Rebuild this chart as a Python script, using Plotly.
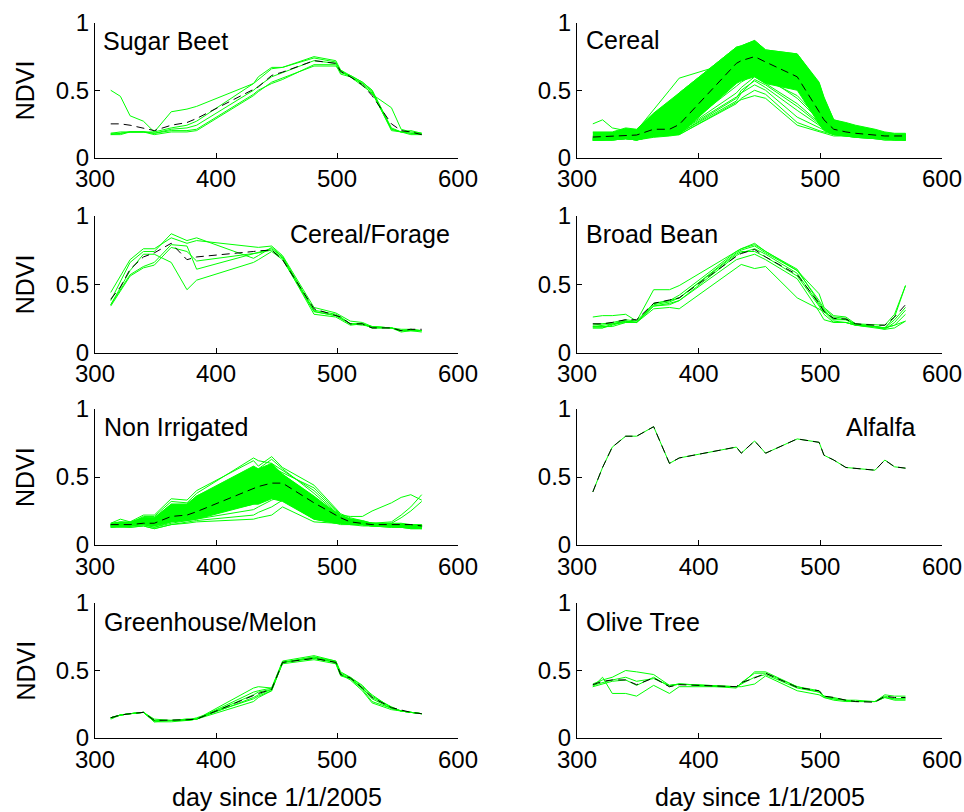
import plotly.graph_objects as go

# ---------------- data ----------------
days = [313, 321, 329, 340, 349, 363, 376, 384, 431, 435, 446, 455,
        481, 499, 503, 511, 521, 529, 545, 553, 561, 570]

sugar_beet_lines = [
    [0.50, 0.455, 0.31, 0.27, 0.19, 0.34, 0.36, 0.38, 0.55, 0.58, 0.66, 0.67, 0.75, 0.72, 0.65, 0.60, 0.55, 0.47, 0.37, 0.21, 0.19, 0.18],
    [0.18, 0.19, 0.19, 0.19, 0.19, 0.22, 0.24, 0.27, 0.55, 0.60, 0.67, 0.67, 0.74, 0.71, 0.63, 0.61, 0.56, 0.50, 0.21, 0.19, 0.18, 0.18],
    [0.17, 0.17, 0.19, 0.19, 0.17, 0.19, 0.19, 0.20, 0.46, 0.49, 0.56, 0.59, 0.68, 0.68, 0.64, 0.60, 0.53, 0.48, 0.21, 0.19, 0.17, 0.17],
    [0.17, 0.18, 0.19, 0.19, 0.18, 0.20, 0.20, 0.21, 0.47, 0.50, 0.55, 0.58, 0.69, 0.69, 0.62, 0.60, 0.55, 0.49, 0.20, 0.19, 0.18, 0.17],
    [0.18, 0.18, 0.19, 0.19, 0.18, 0.21, 0.22, 0.24, 0.50, 0.53, 0.60, 0.63, 0.72, 0.70, 0.65, 0.61, 0.56, 0.50, 0.22, 0.19, 0.20, 0.18],
]
sugar_beet_mean = [0.25, 0.25, 0.24, 0.22, 0.20, 0.24, 0.26, 0.29, 0.505, 0.525, 0.61, 0.635, 0.72, 0.70, 0.64, 0.60, 0.54, 0.46, 0.25, 0.20, 0.19, 0.17]

cereal_core_hi = [0.19, 0.19, 0.19, 0.22, 0.21, 0.33, 0.42, 0.48, 0.82, 0.83, 0.87, 0.80, 0.77, 0.56, 0.45, 0.28, 0.26, 0.24, 0.21, 0.19, 0.18, 0.18]
cereal_core_lo = [0.13, 0.13, 0.14, 0.14, 0.13, 0.15, 0.16, 0.17, 0.55, 0.57, 0.60, 0.55, 0.50, 0.25, 0.20, 0.17, 0.16, 0.15, 0.14, 0.14, 0.14, 0.13]
cereal_lines = [
    [0.25, 0.28, 0.22, 0.20, 0.20, 0.36, 0.50, 0.59, 0.72, 0.74, 0.80, 0.76, 0.70, 0.45, 0.33, 0.23, 0.21, 0.19, 0.17, 0.16, 0.16, 0.15],
    [0.16, 0.18, 0.17, 0.21, 0.20, 0.30, 0.40, 0.48, 0.82, 0.83, 0.87, 0.80, 0.77, 0.55, 0.44, 0.28, 0.25, 0.23, 0.20, 0.18, 0.17, 0.17],
    [0.15, 0.16, 0.16, 0.20, 0.19, 0.27, 0.35, 0.45, 0.80, 0.81, 0.85, 0.79, 0.75, 0.52, 0.40, 0.27, 0.24, 0.22, 0.19, 0.17, 0.16, 0.16],
    [0.14, 0.15, 0.15, 0.18, 0.17, 0.24, 0.30, 0.40, 0.76, 0.78, 0.82, 0.77, 0.72, 0.48, 0.36, 0.25, 0.22, 0.20, 0.18, 0.17, 0.16, 0.15],
    [0.14, 0.15, 0.15, 0.17, 0.16, 0.21, 0.26, 0.35, 0.72, 0.74, 0.78, 0.74, 0.68, 0.44, 0.33, 0.24, 0.21, 0.19, 0.17, 0.16, 0.16, 0.15],
    [0.13, 0.14, 0.14, 0.16, 0.15, 0.19, 0.22, 0.30, 0.68, 0.70, 0.74, 0.70, 0.63, 0.40, 0.30, 0.22, 0.20, 0.18, 0.17, 0.15, 0.15, 0.14],
    [0.14, 0.14, 0.15, 0.16, 0.15, 0.18, 0.19, 0.25, 0.63, 0.65, 0.70, 0.66, 0.58, 0.36, 0.28, 0.21, 0.19, 0.18, 0.16, 0.15, 0.15, 0.14],
    [0.13, 0.14, 0.14, 0.15, 0.14, 0.17, 0.18, 0.22, 0.58, 0.60, 0.65, 0.62, 0.52, 0.32, 0.26, 0.20, 0.18, 0.17, 0.16, 0.15, 0.14, 0.14],
    [0.13, 0.13, 0.14, 0.15, 0.14, 0.16, 0.17, 0.20, 0.53, 0.56, 0.62, 0.58, 0.46, 0.29, 0.24, 0.19, 0.18, 0.17, 0.15, 0.14, 0.14, 0.13],
    [0.13, 0.13, 0.13, 0.14, 0.13, 0.16, 0.17, 0.19, 0.48, 0.52, 0.60, 0.55, 0.40, 0.26, 0.22, 0.18, 0.17, 0.16, 0.15, 0.14, 0.13, 0.13],
    [0.14, 0.14, 0.14, 0.15, 0.14, 0.17, 0.17, 0.18, 0.44, 0.50, 0.57, 0.52, 0.35, 0.24, 0.21, 0.18, 0.17, 0.16, 0.15, 0.14, 0.14, 0.13],
    [0.13, 0.13, 0.13, 0.14, 0.13, 0.16, 0.17, 0.18, 0.42, 0.48, 0.54, 0.50, 0.30, 0.22, 0.20, 0.17, 0.16, 0.16, 0.14, 0.14, 0.13, 0.13],
    [0.13, 0.13, 0.13, 0.14, 0.13, 0.16, 0.17, 0.17, 0.40, 0.44, 0.50, 0.47, 0.26, 0.20, 0.19, 0.17, 0.16, 0.15, 0.14, 0.13, 0.13, 0.13],
    [0.13, 0.13, 0.13, 0.14, 0.13, 0.16, 0.17, 0.17, 0.41, 0.43, 0.46, 0.44, 0.24, 0.19, 0.18, 0.16, 0.16, 0.15, 0.14, 0.13, 0.13, 0.13],
    [0.14, 0.14, 0.14, 0.15, 0.14, 0.17, 0.18, 0.19, 0.45, 0.48, 0.58, 0.54, 0.38, 0.25, 0.21, 0.18, 0.17, 0.16, 0.15, 0.14, 0.14, 0.13],
    [0.15, 0.15, 0.15, 0.17, 0.16, 0.21, 0.23, 0.30, 0.60, 0.62, 0.66, 0.60, 0.44, 0.28, 0.23, 0.19, 0.18, 0.17, 0.15, 0.15, 0.14, 0.14],
]
cereal_mean = [0.152, 0.155, 0.16, 0.165, 0.167, 0.21, 0.21, 0.245, 0.70, 0.72, 0.75, 0.71, 0.60, 0.34, 0.28, 0.21, 0.19, 0.18, 0.167, 0.16, 0.16, 0.16]

forage_lines = [
    [0.35, 0.47, 0.60, 0.72, 0.72, 0.66, 0.46, 0.53, 0.66, 0.68, 0.74, 0.68, 0.30, 0.27, 0.25, 0.21, 0.21, 0.19, 0.18, 0.16, 0.17, 0.16],
    [0.35, 0.46, 0.57, 0.63, 0.66, 0.79, 0.78, 0.61, 0.72, 0.73, 0.76, 0.70, 0.31, 0.28, 0.26, 0.21, 0.21, 0.18, 0.18, 0.16, 0.16, 0.16],
    [0.38, 0.52, 0.66, 0.74, 0.74, 0.87, 0.82, 0.84, 0.69, 0.71, 0.77, 0.70, 0.30, 0.27, 0.25, 0.21, 0.20, 0.19, 0.18, 0.15, 0.16, 0.16],
    [0.44, 0.56, 0.68, 0.76, 0.76, 0.84, 0.80, 0.82, 0.77, 0.77, 0.78, 0.71, 0.33, 0.29, 0.27, 0.23, 0.22, 0.19, 0.18, 0.17, 0.17, 0.16],
    [0.34, 0.45, 0.56, 0.62, 0.64, 0.77, 0.74, 0.67, 0.73, 0.73, 0.75, 0.69, 0.28, 0.26, 0.24, 0.20, 0.21, 0.18, 0.18, 0.16, 0.16, 0.15],
]
forage_mean = [0.39, 0.48, 0.61, 0.70, 0.73, 0.80, 0.68, 0.70, 0.74, 0.745, 0.75, 0.68, 0.32, 0.27, 0.26, 0.21, 0.21, 0.18, 0.18, 0.16, 0.17, 0.17]

bean_lines = [
    [0.19, 0.19, 0.19, 0.22, 0.22, 0.32, 0.33, 0.32, 0.62, 0.645, 0.615, 0.63, 0.40, 0.32, 0.30, 0.25, 0.24, 0.21, 0.19, 0.18, 0.20, 0.23],
    [0.26, 0.27, 0.27, 0.28, 0.23, 0.46, 0.46, 0.49, 0.74, 0.76, 0.79, 0.74, 0.60, 0.43, 0.33, 0.27, 0.26, 0.21, 0.20, 0.20, 0.28, 0.49],
    [0.21, 0.21, 0.22, 0.24, 0.23, 0.36, 0.38, 0.42, 0.74, 0.76, 0.80, 0.74, 0.61, 0.37, 0.31, 0.24, 0.24, 0.20, 0.19, 0.18, 0.26, 0.49],
    [0.18, 0.18, 0.21, 0.23, 0.22, 0.34, 0.36, 0.38, 0.71, 0.73, 0.76, 0.72, 0.58, 0.35, 0.30, 0.23, 0.22, 0.20, 0.19, 0.17, 0.22, 0.31],
    [0.19, 0.20, 0.21, 0.22, 0.22, 0.35, 0.37, 0.40, 0.72, 0.74, 0.74, 0.70, 0.56, 0.34, 0.28, 0.22, 0.22, 0.20, 0.19, 0.18, 0.20, 0.28],
    [0.18, 0.18, 0.20, 0.23, 0.22, 0.34, 0.35, 0.38, 0.68, 0.69, 0.72, 0.68, 0.54, 0.30, 0.24, 0.22, 0.22, 0.20, 0.18, 0.17, 0.18, 0.23],
    [0.20, 0.21, 0.21, 0.23, 0.22, 0.36, 0.38, 0.40, 0.73, 0.75, 0.78, 0.73, 0.60, 0.38, 0.32, 0.26, 0.25, 0.20, 0.19, 0.18, 0.24, 0.33],
]
bean_mean = [0.21, 0.21, 0.22, 0.24, 0.24, 0.36, 0.385, 0.40, 0.705, 0.725, 0.755, 0.70, 0.57, 0.36, 0.30, 0.25, 0.245, 0.21, 0.20, 0.20, 0.26, 0.35]

nonirr_core_hi = [0.16, 0.17, 0.17, 0.20, 0.20, 0.30, 0.30, 0.36, 0.58, 0.56, 0.60, 0.52, 0.36, 0.24, 0.21, 0.19, 0.17, 0.16, 0.16, 0.16, 0.15, 0.15]
nonirr_core_lo = [0.14, 0.14, 0.14, 0.15, 0.14, 0.17, 0.18, 0.19, 0.30, 0.30, 0.34, 0.32, 0.19, 0.16, 0.16, 0.15, 0.15, 0.14, 0.14, 0.14, 0.13, 0.13]
nonirr_lines = [
    [0.16, 0.19, 0.17, 0.22, 0.22, 0.34, 0.33, 0.40, 0.62, 0.58, 0.65, 0.57, 0.44, 0.27, 0.23, 0.20, 0.18, 0.16, 0.15, 0.15, 0.14, 0.14],
    [0.15, 0.17, 0.16, 0.21, 0.21, 0.32, 0.31, 0.38, 0.64, 0.62, 0.60, 0.55, 0.40, 0.25, 0.22, 0.19, 0.17, 0.16, 0.15, 0.14, 0.14, 0.13],
    [0.15, 0.16, 0.16, 0.20, 0.20, 0.30, 0.30, 0.36, 0.55, 0.56, 0.63, 0.56, 0.38, 0.24, 0.21, 0.19, 0.18, 0.16, 0.15, 0.15, 0.15, 0.14],
    [0.14, 0.16, 0.15, 0.19, 0.18, 0.28, 0.27, 0.33, 0.50, 0.52, 0.58, 0.52, 0.35, 0.22, 0.20, 0.18, 0.17, 0.16, 0.15, 0.14, 0.14, 0.14],
    [0.15, 0.15, 0.15, 0.17, 0.17, 0.25, 0.26, 0.30, 0.46, 0.48, 0.55, 0.50, 0.33, 0.21, 0.19, 0.17, 0.16, 0.15, 0.14, 0.13, 0.13, 0.13],
    [0.14, 0.15, 0.15, 0.17, 0.16, 0.22, 0.24, 0.27, 0.42, 0.44, 0.50, 0.47, 0.30, 0.20, 0.19, 0.17, 0.16, 0.15, 0.15, 0.14, 0.14, 0.13],
    [0.14, 0.15, 0.14, 0.16, 0.15, 0.20, 0.22, 0.25, 0.38, 0.40, 0.46, 0.44, 0.28, 0.19, 0.18, 0.17, 0.16, 0.15, 0.14, 0.14, 0.13, 0.13],
    [0.14, 0.14, 0.14, 0.16, 0.14, 0.18, 0.20, 0.23, 0.34, 0.36, 0.42, 0.41, 0.26, 0.18, 0.17, 0.16, 0.15, 0.15, 0.14, 0.13, 0.13, 0.12],
    [0.13, 0.14, 0.14, 0.15, 0.13, 0.17, 0.19, 0.21, 0.30, 0.32, 0.38, 0.39, 0.24, 0.18, 0.17, 0.16, 0.15, 0.14, 0.14, 0.13, 0.13, 0.13],
    [0.14, 0.14, 0.14, 0.15, 0.13, 0.16, 0.18, 0.19, 0.26, 0.28, 0.33, 0.36, 0.22, 0.17, 0.16, 0.16, 0.15, 0.14, 0.14, 0.13, 0.12, 0.12],
    [0.13, 0.13, 0.13, 0.14, 0.12, 0.15, 0.17, 0.18, 0.22, 0.24, 0.28, 0.33, 0.19, 0.16, 0.16, 0.15, 0.15, 0.14, 0.13, 0.13, 0.13, 0.12],
    [0.13, 0.14, 0.13, 0.14, 0.12, 0.15, 0.16, 0.17, 0.19, 0.20, 0.22, 0.28, 0.17, 0.16, 0.15, 0.15, 0.14, 0.14, 0.13, 0.13, 0.12, 0.12],
    [0.15, 0.15, 0.15, 0.18, 0.17, 0.24, 0.25, 0.29, 0.44, 0.46, 0.52, 0.48, 0.34, 0.24, 0.22, 0.21, 0.21, 0.25, 0.31, 0.35, 0.37, 0.33],
    [0.14, 0.15, 0.15, 0.17, 0.16, 0.22, 0.23, 0.27, 0.40, 0.42, 0.48, 0.45, 0.31, 0.20, 0.18, 0.17, 0.16, 0.16, 0.17, 0.22, 0.28, 0.37],
    [0.14, 0.14, 0.14, 0.16, 0.15, 0.21, 0.22, 0.25, 0.37, 0.39, 0.45, 0.43, 0.29, 0.19, 0.18, 0.17, 0.16, 0.15, 0.16, 0.20, 0.25, 0.32],
    [0.15, 0.16, 0.16, 0.20, 0.19, 0.29, 0.29, 0.34, 0.52, 0.50, 0.57, 0.53, 0.42, 0.26, 0.22, 0.19, 0.17, 0.16, 0.15, 0.15, 0.14, 0.14],
]
nonirr_mean = [0.15, 0.15, 0.15, 0.16, 0.16, 0.21, 0.22, 0.245, 0.42, 0.43, 0.455, 0.455, 0.31, 0.22, 0.20, 0.17, 0.16, 0.15, 0.15, 0.15, 0.15, 0.14]

alfalfa_lines = [
    [0.39, 0.57, 0.72, 0.80, 0.80, 0.87, 0.60, 0.64, 0.72, 0.675, 0.765, 0.675, 0.78, 0.755, 0.66, 0.625, 0.57, 0.565, 0.55, 0.625, 0.575, 0.565],
]
alfalfa_mean = [0.39, 0.57, 0.72, 0.80, 0.80, 0.87, 0.60, 0.64, 0.72, 0.675, 0.765, 0.675, 0.78, 0.755, 0.66, 0.625, 0.57, 0.565, 0.55, 0.625, 0.575, 0.565]

melon_lines = [
    [0.15, 0.17, 0.18, 0.19, 0.12, 0.12, 0.13, 0.14, 0.37, 0.38, 0.37, 0.56, 0.60, 0.57, 0.48, 0.45, 0.38, 0.32, 0.22, 0.20, 0.19, 0.18],
    [0.14, 0.17, 0.18, 0.19, 0.13, 0.13, 0.14, 0.14, 0.30, 0.32, 0.36, 0.55, 0.58, 0.55, 0.46, 0.44, 0.36, 0.27, 0.22, 0.20, 0.19, 0.18],
    [0.15, 0.17, 0.18, 0.19, 0.14, 0.13, 0.13, 0.14, 0.32, 0.34, 0.36, 0.56, 0.59, 0.56, 0.47, 0.44, 0.37, 0.30, 0.23, 0.20, 0.19, 0.18],
    [0.15, 0.17, 0.18, 0.19, 0.13, 0.13, 0.13, 0.15, 0.29, 0.31, 0.35, 0.56, 0.60, 0.56, 0.47, 0.43, 0.35, 0.26, 0.21, 0.20, 0.19, 0.18],
    [0.15, 0.17, 0.18, 0.19, 0.13, 0.13, 0.14, 0.14, 0.34, 0.35, 0.37, 0.57, 0.61, 0.57, 0.49, 0.45, 0.39, 0.31, 0.23, 0.20, 0.19, 0.18],
    [0.15, 0.17, 0.18, 0.19, 0.12, 0.13, 0.13, 0.14, 0.27, 0.30, 0.35, 0.56, 0.59, 0.56, 0.47, 0.44, 0.37, 0.29, 0.22, 0.20, 0.19, 0.18],
]
melon_mean = [0.15, 0.17, 0.18, 0.19, 0.13, 0.13, 0.135, 0.14, 0.31, 0.33, 0.36, 0.56, 0.59, 0.56, 0.47, 0.445, 0.37, 0.30, 0.225, 0.205, 0.19, 0.18]

olive_lines = [
    [0.40, 0.43, 0.45, 0.50, 0.49, 0.47, 0.39, 0.40, 0.38, 0.40, 0.49, 0.49, 0.38, 0.35, 0.31, 0.29, 0.28, 0.28, 0.27, 0.30, 0.29, 0.29],
    [0.38, 0.45, 0.33, 0.33, 0.31, 0.39, 0.33, 0.38, 0.38, 0.38, 0.40, 0.46, 0.35, 0.32, 0.30, 0.28, 0.27, 0.27, 0.27, 0.32, 0.31, 0.31],
    [0.39, 0.41, 0.43, 0.45, 0.42, 0.44, 0.39, 0.40, 0.37, 0.41, 0.48, 0.48, 0.38, 0.34, 0.31, 0.30, 0.28, 0.27, 0.27, 0.31, 0.29, 0.29],
    [0.38, 0.40, 0.42, 0.43, 0.39, 0.45, 0.38, 0.40, 0.38, 0.40, 0.45, 0.47, 0.37, 0.34, 0.30, 0.29, 0.28, 0.27, 0.27, 0.30, 0.28, 0.28],
]
olive_mean = [0.395, 0.42, 0.43, 0.43, 0.395, 0.445, 0.38, 0.395, 0.38, 0.41, 0.445, 0.48, 0.375, 0.35, 0.31, 0.30, 0.28, 0.27, 0.265, 0.31, 0.30, 0.30]

panel_names = ["Sugar Beet", "Cereal", "Cereal/Forage", "Broad Bean",
               "Non Irrigated", "Alfalfa", "Greenhouse/Melon", "Olive Tree"]
x_ticks = [300, 400, 500, 600]
y_ticks = [0, 0.5, 1]
y_ticktext = ["0", "0.5", "1"]
x_title = "day since 1/1/2005"
y_title = "NDVI"

# ---------------- layout helpers ----------------
W, H = 964, 812
FONT = "Liberation Sans, Arial, sans-serif"
GREEN = "#00FF00"

panels = [
    (sugar_beet_lines, sugar_beet_mean, None),
    (cereal_lines, cereal_mean, (cereal_core_lo, cereal_core_hi)),
    (forage_lines, forage_mean, None),
    (bean_lines, bean_mean, None),
    (nonirr_lines, nonirr_mean, (nonirr_core_lo, nonirr_core_hi)),
    (alfalfa_lines, alfalfa_mean, None),
    (melon_lines, melon_mean, None),
    (olive_lines, olive_mean, None),
]

col_px = [(95, 458), (577, 942)]
row_px = [(23, 157.5), (216, 352.5), (409, 545), (603, 738)]

# label placement (pixel x, pixel y, anchor)
label_pos = [
    (101, 41, "left"), (584, 40, "left"),
    (288, 234, "left"), (584, 234, "left"),
    (102, 427, "left"), (844, 427, "left"),
    (102, 622, "left"), (584, 622, "left"),
]

fig = go.Figure()
layout = dict(width=W, height=H, margin=dict(l=0, r=0, t=0, b=0, autoexpand=False),
              paper_bgcolor="white", plot_bgcolor="white",
              showlegend=False, annotations=[])

for i, (lines, mean, core) in enumerate(panels):
    r, c = divmod(i, 2)
    n = i + 1
    xs = "x" if n == 1 else f"x{n}"
    ys = "y" if n == 1 else f"y{n}"
    xkey = "xaxis" if n == 1 else f"xaxis{n}"
    ykey = "yaxis" if n == 1 else f"yaxis{n}"

    if core is not None:
        lo, hi = core
        fig.add_trace(go.Scatter(
            x=days + days[::-1], y=hi + lo[::-1], xaxis=xs, yaxis=ys,
            mode="lines", fill="toself", fillcolor=GREEN,
            line=dict(color=GREEN, width=1), hoverinfo="skip"))
    for ln in lines:
        fig.add_trace(go.Scatter(x=days, y=ln, xaxis=xs, yaxis=ys, mode="lines",
                                 line=dict(color=GREEN, width=1), hoverinfo="skip"))
    fig.add_trace(go.Scatter(x=days, y=mean, xaxis=xs, yaxis=ys, mode="lines",
                             line=dict(color="black", width=1, dash="8px,5px"),
                             hoverinfo="skip"))

    x0, x1 = col_px[c]
    y0, y1 = row_px[r]
    axis_common = dict(showline=True, linecolor="black", linewidth=1,
                       ticks="inside", ticklen=5, tickcolor="black", tickwidth=1,
                       showgrid=False, zeroline=False, mirror=False, automargin=False,
                       tickfont=dict(family=FONT, size=24, color="black"))
    layout[xkey] = dict(domain=[x0 / W, x1 / W], anchor=ys, range=[300, 600],
                        tickvals=x_ticks, **axis_common)
    layout[ykey] = dict(domain=[1 - y1 / H, 1 - y0 / H], anchor=xs, range=[0, 1],
                        tickvals=y_ticks, ticktext=y_ticktext, **axis_common)

    lx, ly, anc = label_pos[i]
    layout["annotations"].append(dict(
        text=panel_names[i], x=lx / W, y=1 - ly / H, xref="paper", yref="paper",
        xanchor=anc, yanchor="middle", showarrow=False,
        font=dict(family=FONT, size=25, color="black")))

    if c == 0:
        layout["annotations"].append(dict(
            text=y_title, x=25 / W, y=1 - ((y0 + y1) / 2) / H, xref="paper", yref="paper",
            xanchor="center", yanchor="middle", textangle=-90, showarrow=False,
            font=dict(family=FONT, size=25, color="black")))
    if r == 3:
        layout["annotations"].append(dict(
            text=x_title, x=((x0 + x1) / 2) / W, y=1 - 797 / H, xref="paper", yref="paper",
            xanchor="center", yanchor="middle", showarrow=False,
            font=dict(family=FONT, size=25, color="black")))

fig.update_layout(**layout)
fig.write_html("out.html", config={"displayModeBar": False},
               post_script="document.body.style.margin='0';document.body.style.overflow='hidden';")
